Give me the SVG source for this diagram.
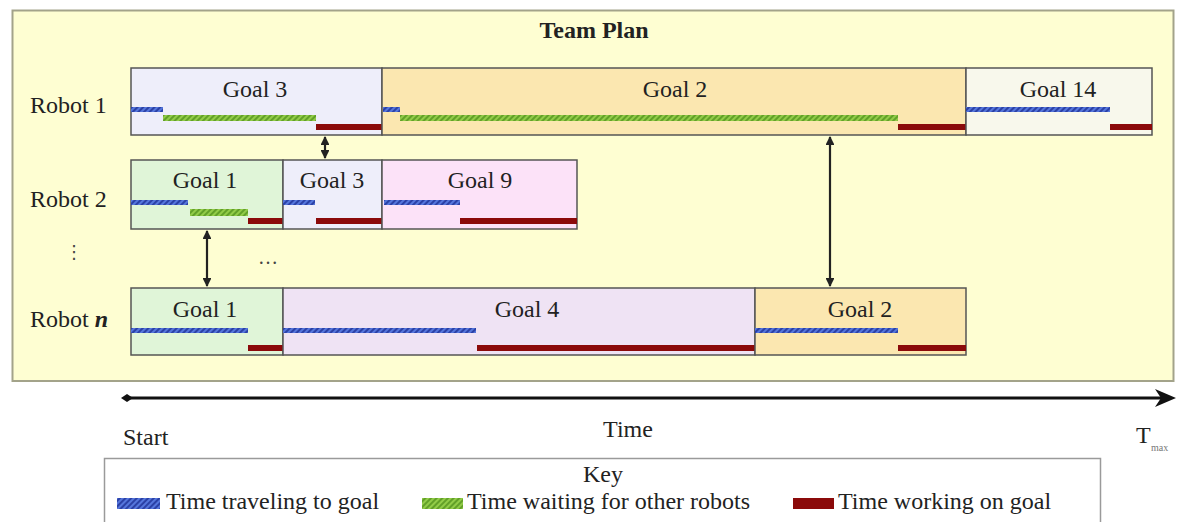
<svg xmlns="http://www.w3.org/2000/svg" width="1179" height="522" viewBox="0 0 1179 522">
<defs>
<style>
.t{font-family:"Liberation Serif","Times New Roman",serif;font-size:24px;fill:#222}
.c{text-anchor:middle}
.box{stroke:#555;stroke-width:1.5}
.blue{fill:url(#hb)}
.green{fill:url(#hg)}
.red{fill:#8b0a0a}
.conn{stroke:#222;stroke-width:2.2;fill:none}
</style>
<pattern id="hb" width="4" height="4" patternUnits="userSpaceOnUse" patternTransform="rotate(45)"><rect width="4" height="4" fill="#5576dc"/><rect width="2" height="4" fill="#2b41a6"/></pattern>
<pattern id="hg" width="4" height="4" patternUnits="userSpaceOnUse" patternTransform="rotate(45)"><rect width="4" height="4" fill="#92cc48"/><rect width="2" height="4" fill="#62a028"/></pattern>
<marker id="ah" viewBox="0 0 10 10" refX="9" refY="5" markerWidth="4" markerHeight="4" orient="auto-start-reverse"><path d="M0,0 L10,5 L0,10 Z" fill="#222"/></marker>
</defs>
<rect width="1179" height="522" fill="#ffffff"/>
<g id="team-plan">
<rect x="12.5" y="10.5" width="1161" height="370.5" fill="#fefed2" stroke="#a3a38a" stroke-width="2"/>
<text class="t c" x="594" y="38" font-weight="bold">Team Plan</text>
</g>
<g id="labels">
<text class="t" x="30" y="113">Robot 1</text>
<text class="t" x="30" y="207">Robot 2</text>
<text class="t" x="30" y="327">Robot <tspan font-style="italic" font-weight="bold">n</tspan></text>
<text x="74" y="258" font-family="DejaVu Sans, sans-serif" font-size="18" fill="#444" text-anchor="middle">⋮</text>
<text x="268" y="264" font-family="Liberation Serif, serif" font-size="20" fill="#444" text-anchor="middle">…</text>
</g>
<g id="r1-goal3">
<rect class="box" x="131" y="68" width="251" height="67" fill="#eeeefa"/>
<text class="t c" x="255" y="97">Goal 3</text>
<rect class="blue" x="131" y="107" width="32" height="5"/>
<rect class="green" x="163" y="115" width="153" height="6"/>
<rect class="red" x="316" y="124" width="66" height="6"/>
</g>
<g id="r1-goal2">
<rect class="box" x="382" y="68" width="584" height="67" fill="#fbe7b0"/>
<text class="t c" x="675" y="97">Goal 2</text>
<rect class="blue" x="383" y="107" width="17" height="5"/>
<rect class="green" x="400" y="115" width="498" height="6"/>
<rect class="red" x="898" y="124" width="68" height="6"/>
</g>
<g id="r1-goal14">
<rect class="box" x="966" y="68" width="186" height="67" fill="#f8f8ec"/>
<text class="t c" x="1058" y="97">Goal 14</text>
<rect class="blue" x="966" y="107" width="144" height="5"/>
<rect class="red" x="1110" y="124" width="42" height="6"/>
</g>
<g id="r2-goal1">
<rect class="box" x="131" y="160" width="152" height="69" fill="#e0f5d8"/>
<text class="t c" x="205" y="188">Goal 1</text>
<rect class="blue" x="131" y="200" width="57" height="5"/>
<rect class="green" x="190" y="209" width="58" height="7"/>
<rect class="red" x="248" y="218" width="35" height="6"/>
</g>
<g id="r2-goal3">
<rect class="box" x="283" y="160" width="99" height="69" fill="#eeeefa"/>
<text class="t c" x="332" y="188">Goal 3</text>
<rect class="blue" x="283" y="200" width="32" height="5"/>
<rect class="red" x="316" y="218" width="66" height="6"/>
</g>
<g id="r2-goal9">
<rect class="box" x="382" y="160" width="195" height="69" fill="#fce2f8"/>
<text class="t c" x="480" y="188">Goal 9</text>
<rect class="blue" x="384" y="200" width="76" height="5"/>
<rect class="red" x="460" y="218" width="117" height="6"/>
</g>
<g id="rn-goal1">
<rect class="box" x="131" y="288" width="152" height="67" fill="#e0f5d8"/>
<text class="t c" x="205" y="317">Goal 1</text>
<rect class="blue" x="131" y="328" width="117" height="5"/>
<rect class="red" x="248" y="345" width="35" height="6"/>
</g>
<g id="rn-goal4">
<rect class="box" x="283" y="288" width="472" height="67" fill="#efe3f4"/>
<text class="t c" x="527" y="317">Goal 4</text>
<rect class="blue" x="283" y="328" width="193" height="5"/>
<rect class="red" x="477" y="345" width="278" height="6"/>
</g>
<g id="rn-goal2">
<rect class="box" x="755" y="288" width="211" height="67" fill="#fbe7b0"/>
<text class="t c" x="860" y="317">Goal 2</text>
<rect class="blue" x="755" y="328" width="143" height="5"/>
<rect class="red" x="898" y="345" width="68" height="6"/>
</g>
<g id="connectors">
<line class="conn" x1="325" y1="137" x2="325" y2="158" marker-start="url(#ah)" marker-end="url(#ah)"/>
<line class="conn" x1="207" y1="231" x2="207" y2="286" marker-start="url(#ah)" marker-end="url(#ah)"/>
<line class="conn" x1="830" y1="137" x2="830" y2="286" marker-start="url(#ah)" marker-end="url(#ah)"/>
</g>
<g id="time-axis">
<line x1="127" y1="398" x2="1166" y2="398" stroke="#111" stroke-width="3"/>
<path d="M121,398 L127,394 L133,398 L127,402 Z" fill="#111"/>
<path d="M1176,398 L1155,389 L1161,398 L1155,407 Z" fill="#111"/>
<text class="t" x="123" y="445">Start</text>
<text class="t c" x="628" y="437">Time</text>
<text class="t" x="1136" y="443">T</text>
<text x="1151" y="451" font-family="Liberation Serif, serif" font-size="10" fill="#777">max</text>
</g>
<g id="key">
<rect x="104.5" y="458.5" width="996" height="80" fill="#ffffff" stroke="#9a9a9a" stroke-width="1.5"/>
<text class="t c" x="603" y="482">Key</text>
<rect class="blue" x="117" y="498" width="43" height="11"/>
<text class="t" x="166" y="509">Time traveling to goal</text>
<rect class="green" x="422" y="498" width="41" height="11"/>
<text class="t" x="467" y="509">Time waiting for other robots</text>
<rect class="red" x="793" y="498" width="41" height="11"/>
<text class="t" x="838" y="509">Time working on goal</text>
</g>
</svg>
